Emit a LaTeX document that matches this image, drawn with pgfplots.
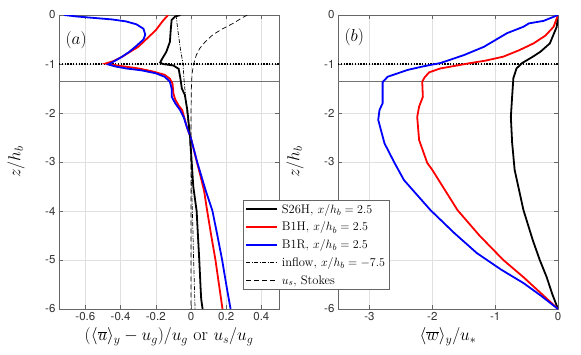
\documentclass[border=0pt]{standalone}
\usepackage{fontspec}
\usepackage{pgfplots}
\pgfplotsset{compat=1.18}
\newfontfamily\helv{TeX Gyre Heros}

\pgfplotsset{
  mat/.style={
    scale only axis, width=220pt, height=294pt,
    ymin=-6, ymax=0, ytick={-6,-5,...,0},
    axis line style={black!60}, tick style={black!60},
    major tick length=4pt, tick pos=both, tick align=inside,
    grid=major, grid style={black!12, line width=0.4pt},
    /pgf/number format/assume math mode=true,
    tick label style={font=\helv\fontsize{11.5}{13}\selectfont, text=black!80},
    label style={font=\fontsize{18}{20}\selectfont},
    ylabel={$z/h_b$},
    ylabel style={at={(axis description cs:-0.195,0.5)}, anchor=center},
    xlabel style={at={(axis description cs:0.5,-0.095)}, anchor=center},
  },
}

\begin{document}
\begin{tikzpicture}

% panel (b) first, so that the legend of (a) lies on top of it
\begin{axis}[mat, at={(279pt,0pt)},
  xmin=-3.5, xmax=0, xtick={-3,-2,-1,0},
  xlabel={$\langle\overline{w}\rangle_y/u_*$},
]
\addplot[black, line width=1.5pt, dash pattern=on 1.4pt off 1.4pt] coordinates {(-3.5,-1) (0,-1)};
\addplot[black!55, line width=0.8pt] coordinates {(-3.5,-1.35) (0,-1.35)};

\addplot[black, line width=1.8pt] coordinates {
(0,0) (-0.02,-0.24) (-0.13,-0.58) (-0.28,-0.75) (-0.40,-0.85) (-0.57,-0.98)
(-0.66,-1.09) (-0.71,-1.29) (-0.73,-1.67) (-0.75,-2.08) (-0.73,-2.6) (-0.69,-3.16)
(-0.55,-3.98) (-0.40,-4.6) (-0.29,-5.0) (-0.18,-5.35) (-0.09,-5.7) (0,-6)};

\addplot[red, line width=1.8pt] coordinates {
(0,0) (-0.07,-0.24) (-0.2,-0.42) (-0.39,-0.58) (-0.62,-0.72) (-0.87,-0.85)
(-1.15,-0.93) (-1.39,-0.98) (-1.65,-1.04) (-1.87,-1.09) (-2.05,-1.17) (-2.12,-1.27)
(-2.16,-1.36) (-2.15,-1.67) (-2.21,-1.87) (-2.24,-2.08) (-2.21,-2.55) (-2.08,-3.02)
(-2.0,-3.16) (-1.6,-3.98) (-1.25,-4.5) (-0.87,-5.0) (-0.55,-5.35) (-0.27,-5.68) (0,-6)};

\addplot[blue, line width=1.8pt] coordinates {
(0,0) (-0.23,-0.12) (-0.46,-0.17) (-0.55,-0.24) (-0.81,-0.37) (-1.18,-0.65)
(-1.5,-0.82) (-1.87,-0.98) (-2.15,-1.05) (-2.39,-1.12) (-2.71,-1.26) (-2.79,-1.37)
(-2.79,-1.6) (-2.79,-1.8) (-2.84,-1.94) (-2.86,-2.14) (-2.76,-2.62) (-2.6,-3.02)
(-2.45,-3.37) (-2.03,-3.98) (-1.65,-4.45) (-1.29,-4.86) (-0.9,-5.2) (-0.55,-5.47)
(-0.27,-5.73) (0,-6)};

\node[font=\fontsize{17}{19}\selectfont] at (axis cs:-3.24,-0.45) {$(b)$};
\end{axis}

% panel (a)
\begin{axis}[mat, at={(0pt,0pt)},
  xmin=-0.75, xmax=0.5, xtick={-0.6,-0.4,...,0.4},
  xlabel={$(\langle\overline{u}\rangle_y-u_g)/u_g$ or $u_s/u_g$},
  legend style={at={(axis description cs:0.836,0.371)}, anchor=north west,
    draw=black!60, fill=white, font=\fontsize{12.5}{14}\selectfont,
    inner xsep=2pt, inner ysep=2pt, row sep=3.3pt, column sep=2pt},
  legend cell align=left,
  legend image code/.code={\draw[#1] (0pt,0pt) -- (31pt,0pt);},
]
\addplot[forget plot, black, line width=1.5pt, dash pattern=on 1.4pt off 1.4pt] coordinates {(-0.75,-1) (0.5,-1)};
\addplot[forget plot, black!55, line width=0.8pt] coordinates {(-0.75,-1.35) (0.5,-1.35)};

\addplot[black, line width=1.8pt] coordinates {
(-0.06,0) (-0.09,-0.03) (-0.11,-0.1) (-0.115,-0.3) (-0.12,-0.55) (-0.14,-0.75)
(-0.165,-0.9) (-0.175,-0.97) (-0.16,-1.0) (-0.10,-1.03) (-0.07,-1.1) (-0.06,-1.3)
(-0.052,-1.5) (-0.035,-1.63) (-0.021,-1.94) (-0.006,-2.45) (0.013,-3.5)
(0.032,-4.0) (0.047,-5.0) (0.055,-5.6) (0.058,-5.8) (0.066,-6)};
\addlegendentry{S26H, $x/h_b=2.5$}

\addplot[red, line width=1.8pt] coordinates {
(-0.13,0) (-0.16,-0.12) (-0.2,-0.31) (-0.25,-0.48) (-0.30,-0.65) (-0.35,-0.76)
(-0.39,-0.85) (-0.44,-0.94) (-0.485,-0.99) (-0.42,-1.03) (-0.30,-1.09) (-0.22,-1.15)
(-0.15,-1.22) (-0.12,-1.30) (-0.105,-1.4) (-0.10,-1.6) (-0.09,-1.72) (-0.07,-1.85)
(-0.05,-1.94) (-0.024,-2.28) (0.0,-2.52) (0.03,-2.95) (0.055,-3.3) (0.075,-3.6)
(0.092,-4.0) (0.115,-4.5) (0.139,-5.0) (0.163,-5.6) (0.179,-6)};
\addlegendentry{B1H, $x/h_b=2.5$}

\addplot[blue, line width=1.8pt] coordinates {
(-0.72,0) (-0.65,-0.03) (-0.55,-0.06) (-0.45,-0.09) (-0.37,-0.13) (-0.31,-0.19)
(-0.27,-0.28) (-0.26,-0.40) (-0.27,-0.50) (-0.31,-0.63) (-0.35,-0.75) (-0.40,-0.87)
(-0.45,-0.97) (-0.47,-1.01) (-0.43,-1.05) (-0.37,-1.09) (-0.28,-1.13) (-0.20,-1.19)
(-0.15,-1.26) (-0.12,-1.36) (-0.11,-1.5) (-0.109,-1.67) (-0.09,-1.8) (-0.062,-1.94)
(-0.04,-2.1) (-0.024,-2.28) (0.0,-2.52) (0.035,-3.0) (0.06,-3.3) (0.085,-3.6)
(0.122,-4.0) (0.15,-4.5) (0.177,-5.0) (0.205,-5.6) (0.225,-6)};
\addlegendentry{B1R, $x/h_b=2.5$}

\addplot[black, line width=0.7pt, dash pattern=on 4pt off 1.5pt on 1pt off 1.5pt] coordinates {
(-0.085,0) (-0.075,-0.3) (-0.06,-0.7) (-0.045,-1.0) (-0.04,-1.3) (-0.025,-1.9)
(-0.01,-2.4) (0.0,-3.0) (0.008,-4) (0.015,-5) (0.023,-6)};
\addlegendentry{inflow, $x/h_b=-7.5$}

\addplot[black, line width=0.7pt, dash pattern=on 5pt off 3pt] coordinates {
(0.32,0) (0.28,-0.08) (0.24,-0.17) (0.18,-0.28) (0.125,-0.4) (0.08,-0.55) (0.05,-0.68)
(0.03,-0.82) (0.015,-1.0) (0.006,-1.2) (0.002,-1.5) (0.0,-2) (0.0,-6)};
\addlegendentry{$u_s$, Stokes}

\node[font=\fontsize{17}{19}\selectfont] at (axis cs:-0.653,-0.51) {$(a)$};
\end{axis}

\pgfresetboundingbox
\useasboundingbox (-59pt,-45pt) rectangle (522pt,309pt);
\end{tikzpicture}
\end{document}
